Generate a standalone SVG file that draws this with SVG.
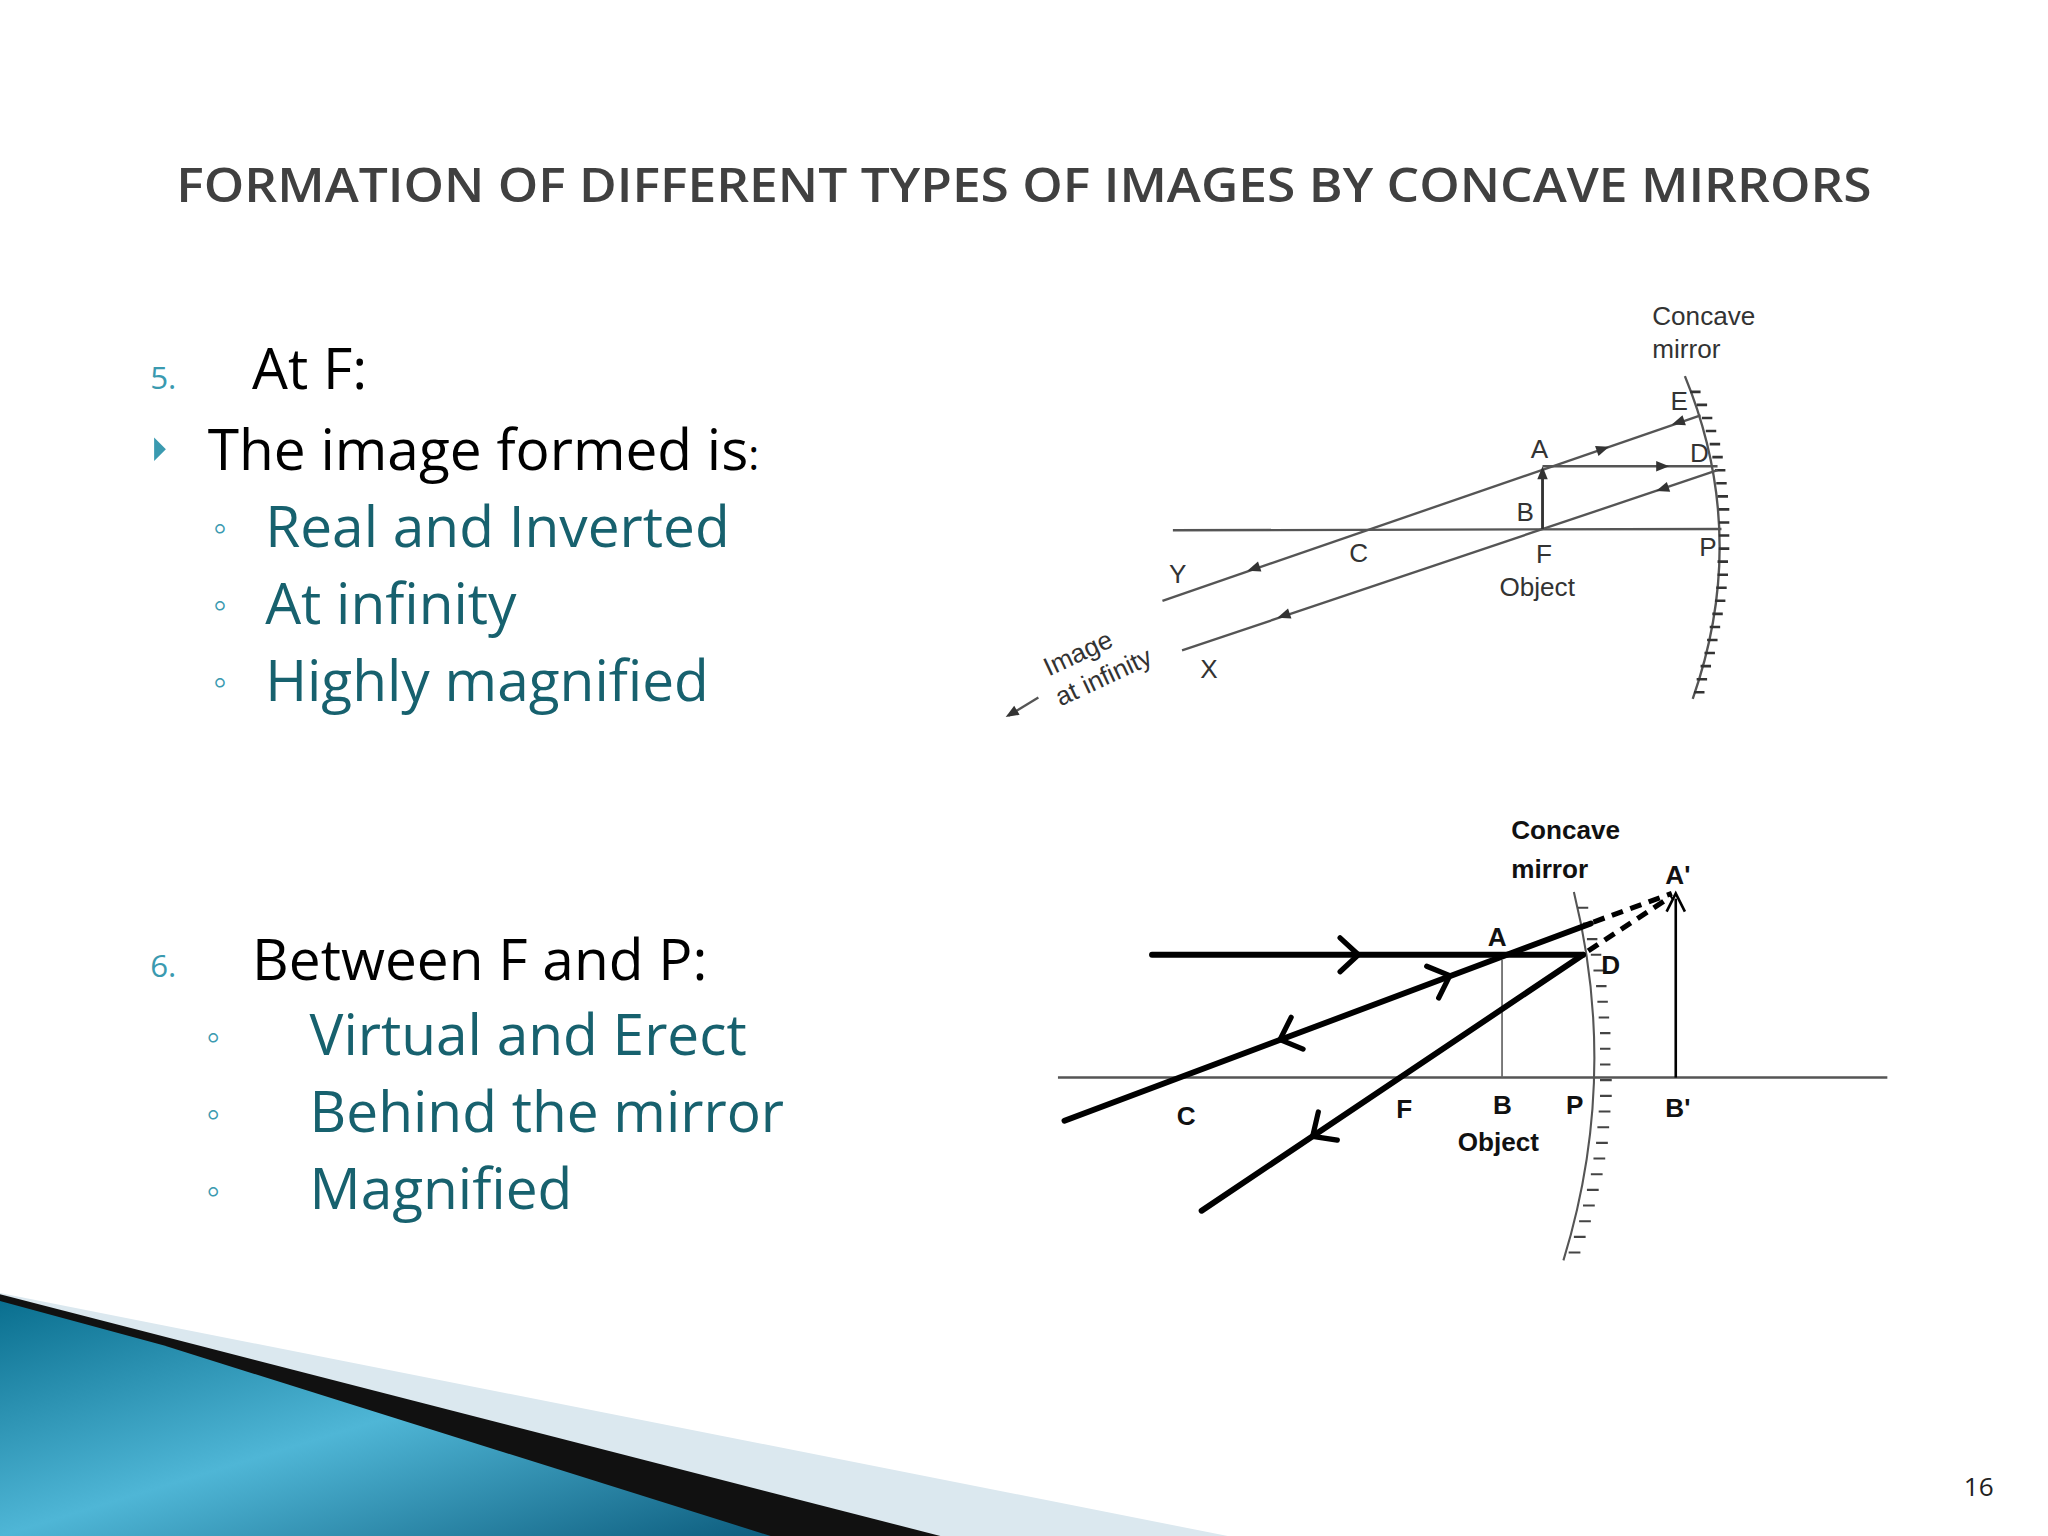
<svg xmlns="http://www.w3.org/2000/svg" xmlns:xlink="http://www.w3.org/1999/xlink" width="2048" height="1536" viewBox="0 0 2048 1536">
<style>
.t{font-family:"Open Sans","Noto Sans",sans-serif}
.lab{font-family:"Liberation Sans",Arial,sans-serif;fill:#333;font-size:20px}
.labb{font-family:"Liberation Sans",Arial,sans-serif;fill:#111;font-size:20px;font-weight:bold}
.thin{stroke:#555;stroke-width:1.8;fill:none}
.thick{stroke:#000;stroke-width:4.5;fill:none;stroke-linecap:round}
.chev{stroke:#000;stroke-width:4;fill:none;stroke-linecap:round;stroke-linejoin:round}
.blk{font-size:43.5px;fill:#000}
.teal{font-size:43.5px;fill:#17616e}
.num{font-size:24px;fill:#3a9ab0}
.bul{font-size:30px;fill:#3a9ab0}
</style>
<defs>
<path id="tri" d="M0,0 L-10,-4 L-10,4Z" fill="#333"/>
<path id="ch" d="M-14,-13 L0,0 L-14,13" class="chev"/>
<linearGradient id="bg" x1="0" y1="0" x2="1" y2="1">
<stop offset="0" stop-color="#0a6f8f"/><stop offset="0.5" stop-color="#4fb6d6"/><stop offset="1" stop-color="#0d5d7e"/>
</linearGradient>
</defs>
<rect width="2048" height="1536" fill="#fff"/>
<g transform="scale(1.30612)">
<g id="decor">
<polygon points="0,990 940,1176 0,1176" fill="#dbe8ef"/>
<polygon points="0,991 720,1176 0,1176" fill="#111"/>
<polygon points="0,996 125,1030 590,1176 0,1176" fill="url(#bg)"/>
</g>
<g id="title">
<text class="t" x="784" y="155" text-anchor="middle" font-size="36" font-weight="600" fill="#404040" textLength="1298" lengthAdjust="spacingAndGlyphs">FORMATION OF DIFFERENT TYPES OF IMAGES BY CONCAVE MIRRORS</text>
</g>
<g id="text-left" class="t">
<text class="num" x="115" y="298">5.</text>
<text class="blk" x="193" y="298">At F:</text>
<path d="M118,335 L127,344 L118,353Z" fill="#3a9ab0"/>
<text class="blk" x="159" y="360">The image formed is<tspan font-size="32">:</tspan></text>
<text class="bul" x="163" y="414">◦</text>
<text class="teal" x="203" y="419">Real and Inverted</text>
<text class="bul" x="163" y="473">◦</text>
<text class="teal" x="203" y="478">At infinity</text>
<text class="bul" x="163" y="532">◦</text>
<text class="teal" x="203" y="537">Highly magnified</text>
<text class="num" x="115" y="748">6.</text>
<text class="blk" x="193" y="750">Between F and P:</text>
<text class="bul" x="158" y="804">◦</text>
<text class="teal" x="237" y="808">Virtual and Erect</text>
<text class="bul" x="158" y="863">◦</text>
<text class="teal" x="237" y="867">Behind the mirror</text>
<text class="bul" x="158" y="922">◦</text>
<text class="teal" x="237" y="926">Magnified</text>
</g>
<g id="diagram1">
<path class="thin" d="M1290,288 Q1340,410 1296,535"/>
<path stroke="#333" stroke-width="2" d="M1294,300h8 M1299,310h8 M1303,320h8 M1306,330h8 M1309,340h8 M1311,350h8 M1313,360h8 M1314,370h8 M1315,380h8 M1316,390h8 M1316,400h8 M1316,410h8 M1316,420h8 M1315,430h8 M1315,440h8 M1314,450h8 M1313,460h8 M1311,470h8 M1309,480h8 M1307,490h8 M1305,500h8 M1302,510h8 M1299,520h8 M1297,530h8"/>
<line class="thin" x1="898" y1="406" x2="1318" y2="405"/>
<line class="thin" x1="890" y1="460" x2="1302" y2="318"/>
<line class="thin" x1="905" y1="498" x2="1315" y2="360"/>
<line class="thin" x1="1181" y1="357" x2="1315" y2="357"/>
<line stroke="#333" stroke-width="2.2" x1="1181" y1="405" x2="1181" y2="362"/>
<use href="#tri" transform="translate(1181,357) rotate(-90)"/>
<use href="#tri" transform="translate(1278,357)"/>
<use href="#tri" transform="translate(1232,342) rotate(-19)"/>
<use href="#tri" transform="translate(1280,325) rotate(161)"/>
<use href="#tri" transform="translate(955,437) rotate(161)"/>
<use href="#tri" transform="translate(1268,376) rotate(161)"/>
<use href="#tri" transform="translate(978,473) rotate(161)"/>
<line class="thin" x1="772" y1="548" x2="795" y2="534"/>
<use href="#tri" transform="translate(770,549) rotate(149)"/>
<text class="lab" x="1265" y="249">Concave</text>
<text class="lab" x="1265" y="274">mirror</text>
<text class="lab" x="1279" y="314">E</text>
<text class="lab" x="1172" y="351">A</text>
<text class="lab" x="1294" y="354">D</text>
<text class="lab" x="1161" y="399">B</text>
<text class="lab" x="1033" y="430">C</text>
<text class="lab" x="1176" y="431">F</text>
<text class="lab" x="1148" y="456">Object</text>
<text class="lab" x="1301" y="426">P</text>
<text class="lab" x="895" y="446">Y</text>
<text class="lab" x="919" y="519">X</text>
<text class="lab" transform="translate(803,518) rotate(-25)">Image</text>
<text class="lab" transform="translate(812,541) rotate(-25)">at infinity</text>
</g>
<g id="diagram2">
<line stroke="#555" stroke-width="2" x1="810" y1="825" x2="1445" y2="825"/>
<path stroke="#555" stroke-width="1.6" fill="none" d="M1205,683 Q1240,825 1197,965"/>
<path stroke="#444" stroke-width="1.6" d="M1208,695h8 M1212,707h8 M1215,719h8 M1218,731h8 M1220,743h8 M1222,755h8 M1223,767h8 M1224,779h8 M1225,791h8 M1225,803h8 M1225,815h8 M1225,827h9 M1225,839h9 M1224,851h9 M1223,863h9 M1222,875h9 M1220,887h9 M1218,899h9 M1215,911h9 M1212,923h9 M1209,935h9 M1205,947h9 M1201,959h9"/>
<line stroke="#666" stroke-width="1.3" x1="1150" y1="825" x2="1150" y2="735"/>
<line stroke="#000" stroke-width="2" x1="1283" y1="825" x2="1283" y2="688"/>
<path d="M1276,698 L1283,684 L1290,698" stroke="#000" stroke-width="2" fill="none"/>
<line class="thick" x1="882" y1="731" x2="1212" y2="731"/>
<line class="thick" x1="815" y1="858" x2="1218" y2="707"/>
<line class="thick" x1="920" y1="927" x2="1212" y2="731"/>
<line stroke="#000" stroke-width="4" stroke-dasharray="9,6" x1="1220" y1="706" x2="1280" y2="684"/>
<line stroke="#000" stroke-width="4" stroke-dasharray="9,6" x1="1216" y1="728" x2="1280" y2="686"/>
<use href="#ch" transform="translate(1040,731)"/>
<use href="#ch" transform="translate(1110,747) rotate(-20.6)"/>
<use href="#ch" transform="translate(980,796) rotate(159.4)"/>
<use href="#ch" transform="translate(1005,870) rotate(146)"/>
<text class="labb" x="1157" y="642">Concave</text>
<text class="labb" x="1157" y="672">mirror</text>
<text class="labb" x="1275" y="677">A'</text>
<text class="labb" x="1139" y="724">A</text>
<text class="labb" x="1226" y="746">D</text>
<text class="labb" x="901" y="861">C</text>
<text class="labb" x="1069" y="856">F</text>
<text class="labb" x="1143" y="853">B</text>
<text class="labb" x="1199" y="853">P</text>
<text class="labb" x="1275" y="855">B'</text>
<text class="labb" x="1116" y="881">Object</text>
</g>
<text class="t" x="1515" y="1145" font-size="20" fill="#222" text-anchor="middle">16</text>
</g>
</svg>
